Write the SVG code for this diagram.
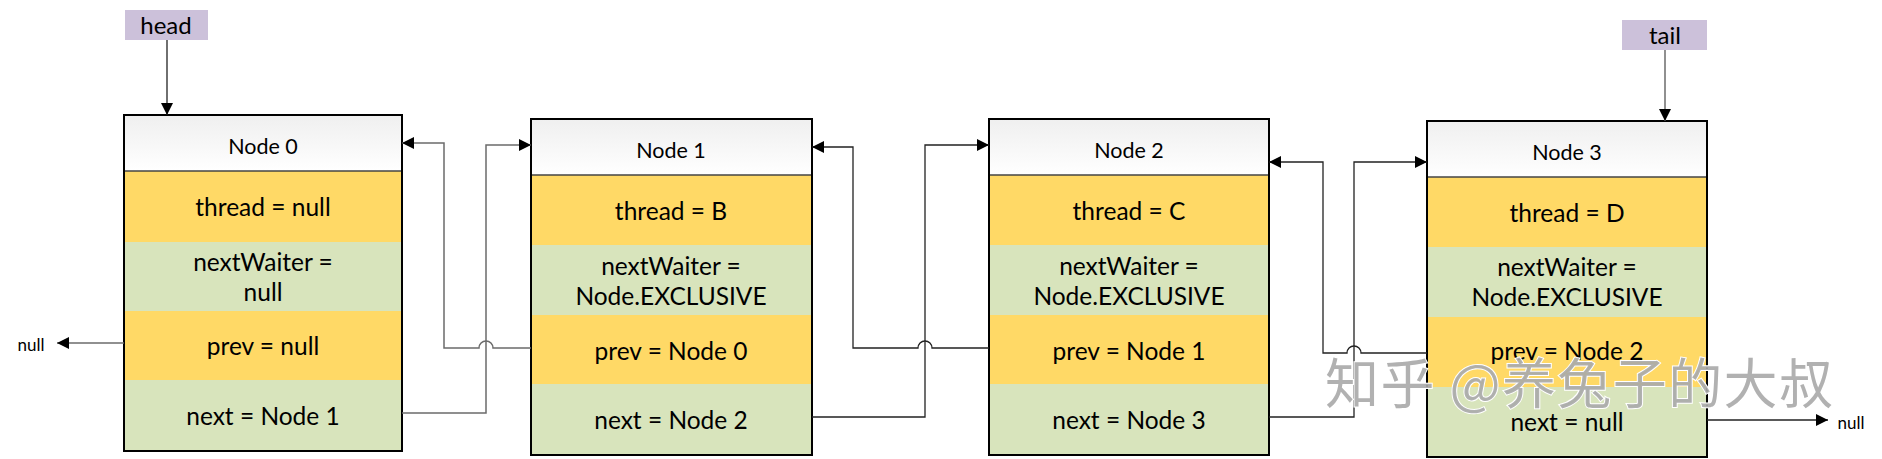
<svg xmlns="http://www.w3.org/2000/svg" width="1882" height="459" viewBox="0 0 1882 459">
<style>
.t{font-family:Lato,"Open Sans","Liberation Sans",sans-serif;fill:#000;text-anchor:middle;dominant-baseline:central}
.f{font-size:24.5px}
.h{font-size:21.5px}
.s{font-size:17px}
.lb{font-size:24px}
.y{fill:#FFD966}
.g{fill:#D8E4BC}
.box{fill:none;stroke:#000;stroke-width:2}
.sep{stroke:#444;stroke-width:1.5}
.c{fill:none;stroke:#6b6b6b;stroke-width:1.5}
.k{fill:none;stroke:#222;stroke-width:1.3}
.lab{fill:#CCC1DA}
</style>
<defs>
<linearGradient id="hg" x1="0" y1="0" x2="0" y2="1">
<stop offset="0" stop-color="#EFEFEF"/>
<stop offset="1" stop-color="#FFFFFF"/>
</linearGradient>
<marker id="ar" viewBox="0 0 10 10" refX="10" refY="5" markerWidth="13" markerHeight="12" markerUnits="userSpaceOnUse" orient="auto">
<path d="M0,0 L10,5 L0,10 z" fill="#000"/>
</marker>
</defs>

<g id="head">
<rect class="lab" x="125" y="10" width="83" height="30"/>
<text class="t lb" x="166" y="24">head</text>
</g>
<g id="tail">
<rect class="lab" x="1622" y="20" width="85" height="30"/>
<text class="t lb" x="1665" y="34">tail</text>
</g>

<g id="node0">
<rect x="124" y="115" width="278" height="56" fill="url(#hg)"/>
<rect class="y" x="124" y="171" width="278" height="71"/>
<rect class="g" x="124" y="242" width="278" height="69"/>
<rect class="y" x="124" y="311" width="278" height="69"/>
<rect class="g" x="124" y="380" width="278" height="71"/>
<line class="sep" x1="124" y1="171" x2="402" y2="171"/>
<rect class="box" x="124" y="115" width="278" height="336"/>
<text class="t h" x="263" y="146">Node 0</text>
<text class="t f" x="263" y="206">thread = null</text>
<text class="t f" x="263" y="261">nextWaiter =</text>
<text class="t f" x="263" y="291">null</text>
<text class="t f" x="263" y="345">prev = null</text>
<text class="t f" x="263" y="415">next = Node 1</text>
</g>

<g id="node1">
<rect x="531" y="119" width="281" height="56" fill="url(#hg)"/>
<rect class="y" x="531" y="175" width="281" height="70"/>
<rect class="g" x="531" y="245" width="281" height="70"/>
<rect class="y" x="531" y="315" width="281" height="69"/>
<rect class="g" x="531" y="384" width="281" height="71"/>
<line class="sep" x1="531" y1="175" x2="812" y2="175"/>
<rect class="box" x="531" y="119" width="281" height="336"/>
<text class="t h" x="671" y="150">Node 1</text>
<text class="t f" x="671" y="210">thread = B</text>
<text class="t f" x="671" y="265">nextWaiter =</text>
<text class="t f" x="671" y="295">Node.EXCLUSIVE</text>
<text class="t f" x="671" y="350">prev = Node 0</text>
<text class="t f" x="671" y="419">next = Node 2</text>
</g>

<g id="node2">
<rect x="989" y="119" width="280" height="56" fill="url(#hg)"/>
<rect class="y" x="989" y="175" width="280" height="70"/>
<rect class="g" x="989" y="245" width="280" height="70"/>
<rect class="y" x="989" y="315" width="280" height="69"/>
<rect class="g" x="989" y="384" width="280" height="71"/>
<line class="sep" x1="989" y1="175" x2="1269" y2="175"/>
<rect class="box" x="989" y="119" width="280" height="336"/>
<text class="t h" x="1129" y="150">Node 2</text>
<text class="t f" x="1129" y="210">thread = C</text>
<text class="t f" x="1129" y="265">nextWaiter =</text>
<text class="t f" x="1129" y="295">Node.EXCLUSIVE</text>
<text class="t f" x="1129" y="350">prev = Node 1</text>
<text class="t f" x="1129" y="419">next = Node 3</text>
</g>

<g id="node3">
<rect x="1427" y="121" width="280" height="56" fill="url(#hg)"/>
<rect class="y" x="1427" y="177" width="280" height="70"/>
<rect class="g" x="1427" y="247" width="280" height="70"/>
<rect class="y" x="1427" y="317" width="280" height="70"/>
<rect class="g" x="1427" y="387" width="280" height="70"/>
<line class="sep" x1="1427" y1="177" x2="1707" y2="177"/>
<rect class="box" x="1427" y="121" width="280" height="336"/>
<text class="t h" x="1567" y="152">Node 3</text>
<text class="t f" x="1567" y="212">thread = D</text>
<text class="t f" x="1567" y="266">nextWaiter =</text>
<text class="t f" x="1567" y="296">Node.EXCLUSIVE</text>
<text class="t f" x="1567" y="350">prev = Node 2</text>
<text class="t f" x="1567" y="421">next = null</text>
</g>

<g id="connectors">
<path class="k" d="M167,40 V115" marker-end="url(#ar)"/>
<path class="c" d="M1665,50 V121" marker-end="url(#ar)"/>
<path class="c" d="M124,343 H57" marker-end="url(#ar)"/>
<path class="k" d="M1707,420 H1828" marker-end="url(#ar)"/>
<path class="c" d="M402,413 H486 V145 H531" marker-end="url(#ar)"/>
<path class="c" d="M531,348 H493 A7,7 0 0 0 479,348 H444 V143 H402" marker-end="url(#ar)"/>
<path class="k" d="M812,417 H925 V145 H989" marker-end="url(#ar)"/>
<path class="k" d="M989,348 H932 A7,7 0 0 0 918,348 H853 V147 H812" marker-end="url(#ar)"/>
<path class="k" d="M1269,417 H1354 V162 H1427" marker-end="url(#ar)"/>
<path class="k" d="M1427,353 H1361 A7,7 0 0 0 1347,353 H1323 V162 H1269" marker-end="url(#ar)"/>
</g>

<text class="t s" x="31" y="344">null</text>
<text class="t s" x="1851" y="422">null</text>

<text x="1325" y="404" font-family="'Noto Sans CJK SC',sans-serif" font-size="54" textLength="508" lengthAdjust="spacing" fill="#A8A8A8" fill-opacity="0.9" stroke="#FFFFFF" stroke-width="2" paint-order="stroke">知乎 @养兔子的大叔</text>
</svg>
